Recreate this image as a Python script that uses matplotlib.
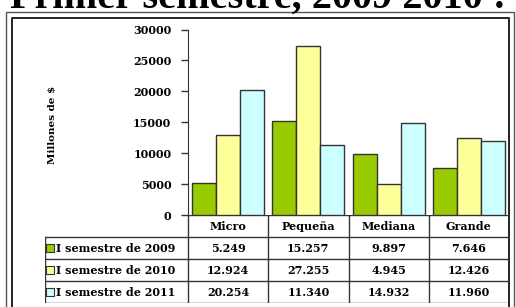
import matplotlib.pyplot as plt
import numpy as np

categories = ["Micro", "Pequeña", "Mediana", "Grande"]
series = ["I semestre de 2009", "I semestre de 2010", "I semestre de 2011"]
v2009 = [5249, 15257, 9897, 7646]
v2010 = [12924, 27255, 4945, 12426]
v2011 = [20254, 11340, 14932, 11960]
labels2009 = ["5.249", "15.257", "9.897", "7.646"]
labels2010 = ["12.924", "27.255", "4.945", "12.426"]
labels2011 = ["20.254", "11.340", "14.932", "11.960"]
yticks = [0, 5000, 10000, 15000, 20000, 25000, 30000]

colors = ["#99cc00", "#ffff99", "#ccffff"]
edge = "#333333"
W, H = 516, 307
font = "DejaVu Serif"

fig = plt.figure(figsize=(W / 100, H / 100), dpi=100)

def px_axes(x0, y0, x1, y1):
    # pixel box (top-left origin) -> figure fraction axes
    return fig.add_axes([x0 / W, 1 - y1 / H, (x1 - x0) / W, (y1 - y0) / H])

# frame
frame = px_axes(0, 0, W, H)
frame.set_xlim(0, W)
frame.set_ylim(H, 0)
frame.axis("off")
frame.plot([6, 6, 514, 514], [H + 5, 12, 12, H + 5], color="#555555", lw=1)
frame.plot([12, 12, 509, 509], [H + 5, 18, 18, H + 5], color="#222222", lw=1.4)

# title is cropped at the top edge in the reference
fig.text(10 / W, 1 - 7.5 / H, "Primer semestre, 2009 2010 :", fontsize=29,
         family="Liberation Serif", fontweight="bold", va="baseline", ha="left")

# bar chart
ax = px_axes(188, 29.5, 509, 215)
x = np.arange(len(categories))
for k, vals in enumerate([v2009, v2010, v2011]):
    ax.bar(x + (k - 1) * 0.3, vals, width=0.3, color=colors[k],
           edgecolor=edge, linewidth=1, zorder=3)
ax.set_xlim(-0.5, 3.5)
ax.set_ylim(0, 30000)
ax.set_yticks(yticks)
ax.set_yticklabels([str(t) for t in yticks], family=font, fontweight="bold", fontsize=8)
ax.tick_params(axis="y", length=5, width=1, color=edge, pad=7)
ax.set_xticks([])
for s in ["top", "right", "bottom"]:
    ax.spines[s].set_visible(False)
ax.spines["left"].set_color(edge)
ax.patch.set_alpha(0)
fig.text(52 / W, 1 - 125 / H, "Millones de $", rotation=90, family=font,
         fontweight="bold", fontsize=7.5, ha="center", va="center")

# data table
tab = px_axes(45, 215, 509, 303)
left = -0.5 - 143 / 80.25
tab.set_xlim(left, 3.5)
tab.set_ylim(4, 0)
tab.axis("off")
lc = dict(color=edge, lw=1)
tab.plot([-0.5, 3.5], [0, 0], **lc)
for r in range(1, 5):
    tab.plot([left, 3.5], [r, r], **lc)
tab.plot([left, left], [1, 4], **lc)
for c in range(5):
    tab.plot([c - 0.5, c - 0.5], [0, 4], **lc)
tkw = dict(family=font, fontweight="bold", fontsize=8, ha="center", va="center")
for i, cat in enumerate(categories):
    tab.text(i, 0.5, cat, **tkw)
for r, (name, labs) in enumerate(zip(series, [labels2009, labels2010, labels2011])):
    y = r + 1.5
    tab.scatter([left + 0.06], [y], marker="s", s=30, color=colors[r],
                edgecolor=edge, linewidth=0.8, clip_on=False)
    tab.text(left + 0.14, y, name, family=font, fontweight="bold",
             fontsize=8, ha="left", va="center")
    for i, lab in enumerate(labs):
        tab.text(i, y, lab, **tkw)

fig.savefig("out.png", dpi=100)
